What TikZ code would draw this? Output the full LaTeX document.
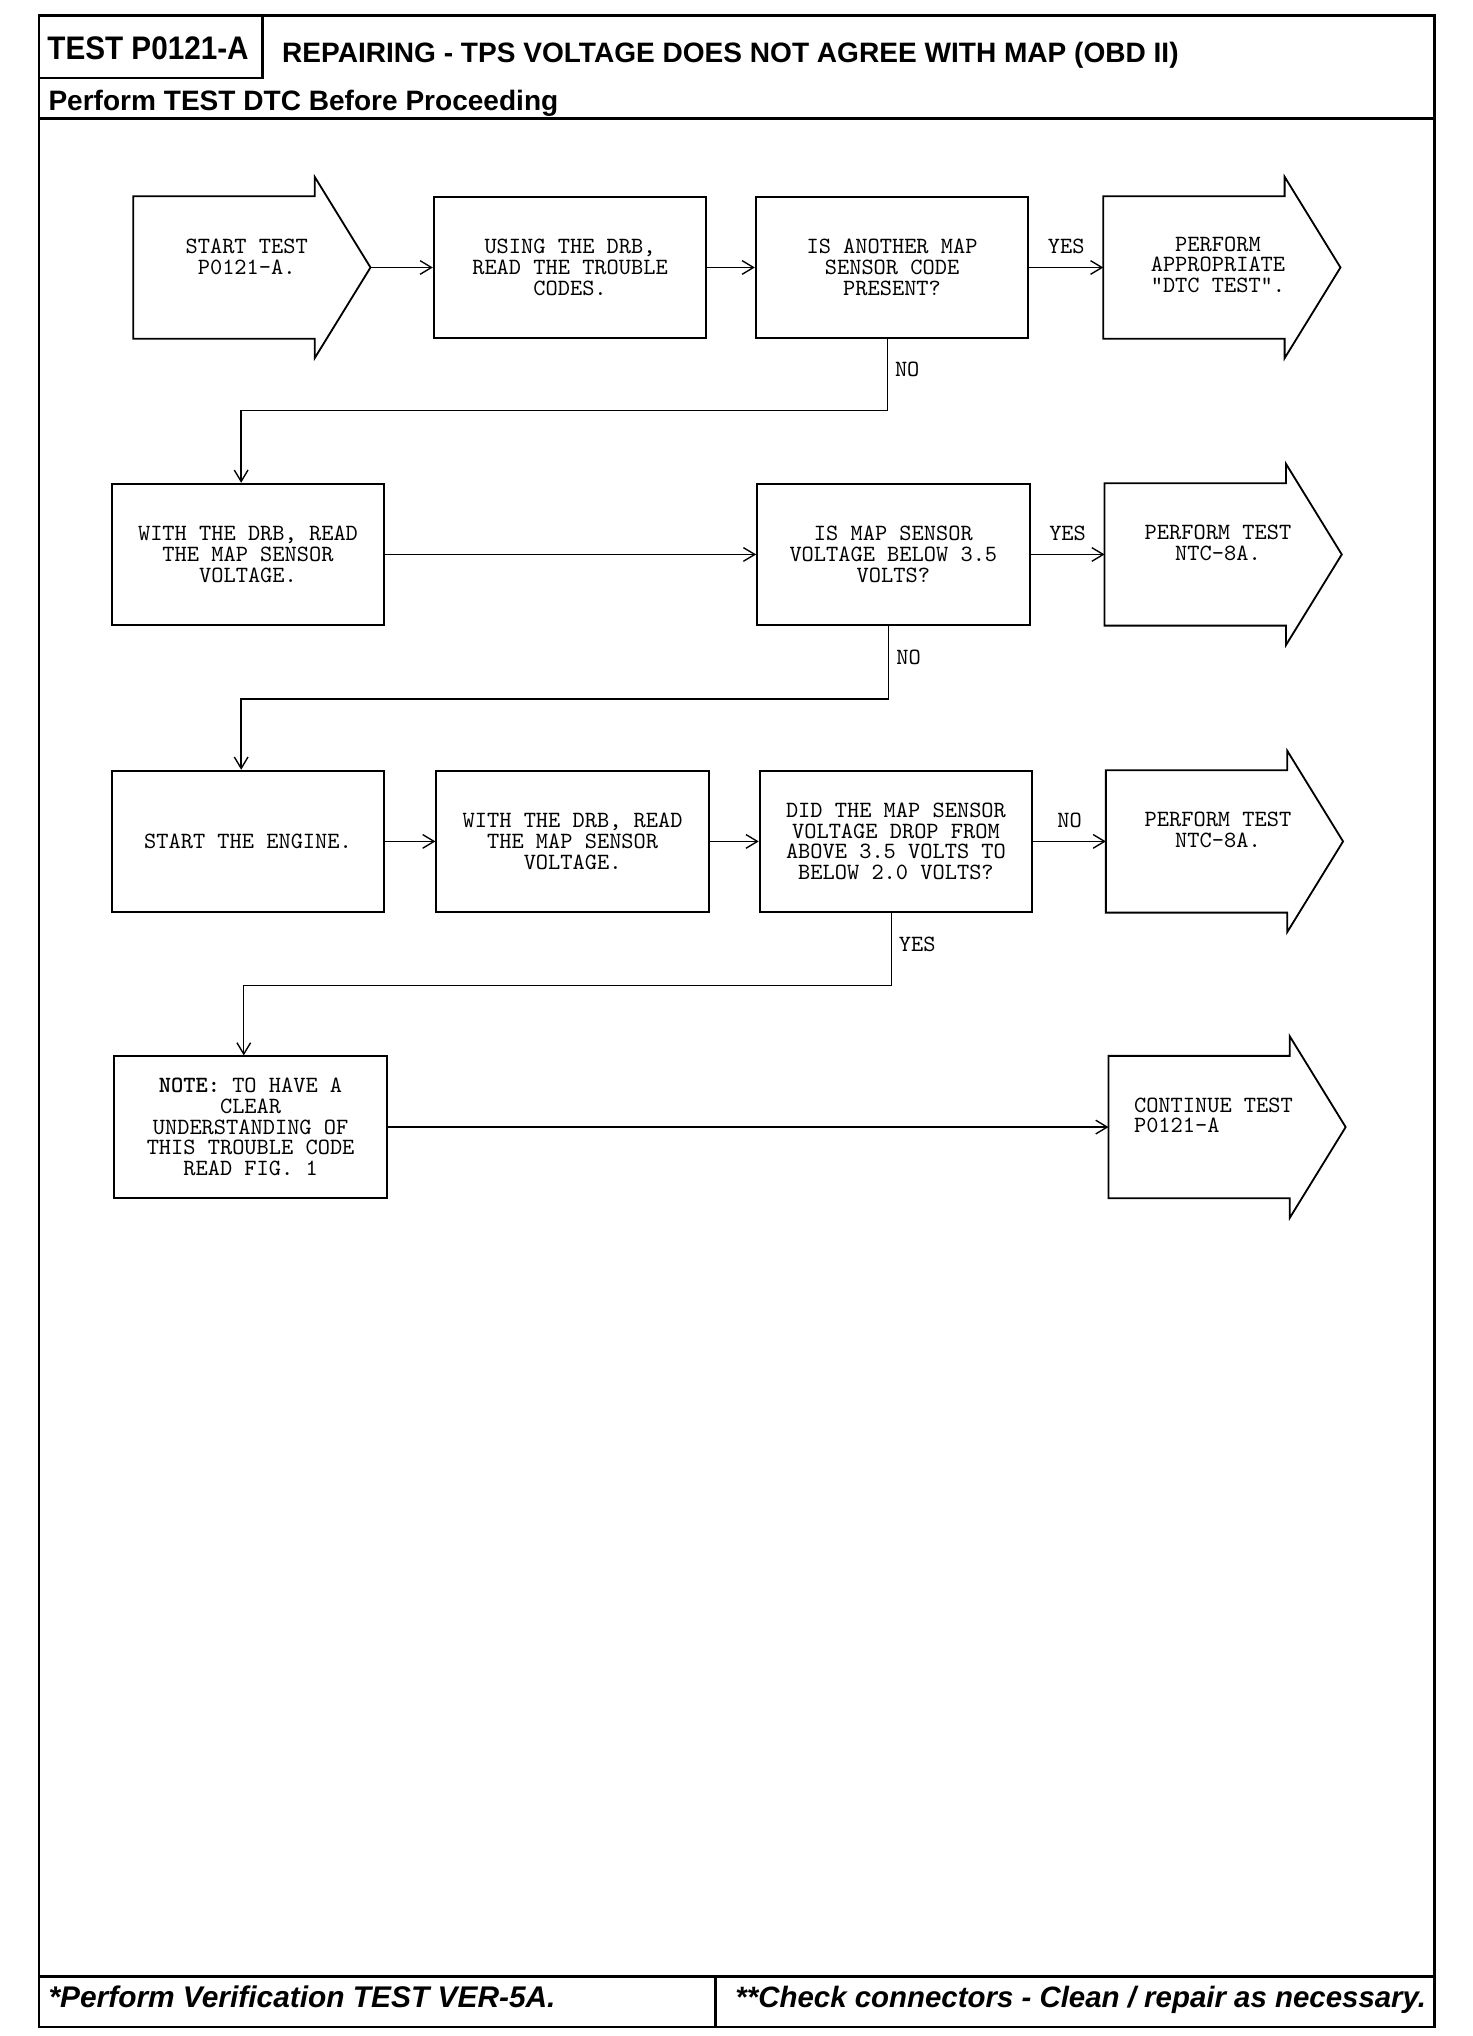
\documentclass[tikz,border=0pt]{standalone}
\usepackage{fontspec}
\newfontfamily\hsans{Liberation Sans}
\usetikzlibrary{arrows.meta,calc}
\newcommand\boxfont{\ttfamily\fontsize{10.2}{9.1}\selectfont}
\newcommand\arrowoutline[1]{%
  \draw[line width=0.8pt] (#1.south west) -- (#1.north west) -- ($(#1.north east)+(-43,0)$) -- ++(0,-15)
    -- (#1.east) -- ($(#1.south east)+(-43,15)$) -- ($(#1.south east)+(-43,0)$) -- cycle;}
\tikzset{
  box/.style={draw, line width=0.8pt, minimum width=4.2cm, minimum height=2.18cm, inner sep=0pt, align=center, font=\boxfont},
  arrbody/.style={minimum width=3.64cm, minimum height=2.18cm, inner sep=0pt},
  txt/.style={align=center, font=\boxfont, inner sep=0pt},
  conn/.style={line width=0.6pt, -{Straight Barb[length=5pt,width=6pt]}},
  lbl/.style={font=\boxfont, inner sep=1pt},
  frame/.style={line width=1.2pt},
  hdr/.style={font=\hsans\bfseries\fontsize{12.3}{14}\selectfont, inner sep=0pt},
  ftr/.style={font=\hsans\bfseries\itshape\fontsize{13.1}{14}\selectfont, inner sep=0pt},
}
\begin{document}
\begin{tikzpicture}[x=0.02cm,y=-0.02cm]
\useasboundingbox (0,0) rectangle (1134,1568);
% frame
\draw[frame] (30,12) rectangle (1105,1561);
\draw[frame] (30,60) -- (202,60) -- (202,12);
\draw[frame] (30,91) -- (1105,91);
\draw[frame] (30,1522) -- (1105,1522);
\draw[frame] (551,1522) -- (551,1561);
% header texts
\node[font=\hsans\bfseries\fontsize{14.3}{16}\selectfont, inner sep=0pt, anchor=base] (hid) at (114,46) {\scalebox{0.91}[1]{TEST P0121-A}};
\node[hdr, anchor=base west] (htitle) at (217,48.5) {REPAIRING - TPS VOLTAGE DOES NOT AGREE WITH MAP (OBD II)};
\node[hdr, anchor=base west] (hsub) at (37,85) {Perform TEST DTC Before Proceeding};
\node[ftr, anchor=base west] (f1) at (37,1546) {*Perform Verification TEST VER-5A.};
\node[ftr, font=\hsans\bfseries\itshape\fontsize{12.9}{14}\selectfont, anchor=base west] (f2) at (566,1546) {**Check connectors - Clean / repair as necessary.};
% row 1
\node[arrbody] (a1) at (194,206) {};
\arrowoutline{a1}
\node[txt] (a1t) at (190,198) {START TEST\\P0121-A.};
\node[box] (b1) at (439,206) {USING THE DRB,\\READ THE TROUBLE\\CODES.};
\node[box] (b2) at (687,206) {IS ANOTHER MAP\\SENSOR CODE\\PRESENT?};
\node[arrbody] (a2) at (941,206) {};
\arrowoutline{a2}
\node[txt] (a2t) at (938,204) {PERFORM\\APPROPRIATE\\"DTC TEST".};
% row 2
\node[box] (b3) at (191,427) {WITH THE DRB, READ\\THE MAP SENSOR\\VOLTAGE.};
\node[box] (b4) at (688,427) {IS MAP SENSOR\\VOLTAGE BELOW 3.5\\VOLTS?};
\node[arrbody] (a3) at (942,427) {};
\arrowoutline{a3}
\node[txt] (a3t) at (938,418) {PERFORM TEST\\NTC-8A.};
% row 3
\node[box] (b5) at (191,648) {START THE ENGINE.};
\node[box] (b6) at (441,648) {WITH THE DRB, READ\\THE MAP SENSOR\\VOLTAGE.};
\node[box] (b7) at (690,648) {DID THE MAP SENSOR\\VOLTAGE DROP FROM\\ABOVE 3.5 VOLTS TO\\BELOW 2.0 VOLTS?};
\node[arrbody] (a4) at (943,648) {};
\arrowoutline{a4}
\node[txt] (a4t) at (938,639) {PERFORM TEST\\NTC-8A.};
% row 4
\node[box] (b8) at (193,868) {\textbf{NOTE:} TO HAVE A\\CLEAR\\UNDERSTANDING OF\\THIS TROUBLE CODE\\READ FIG. 1};
\node[arrbody] (a5) at (945,868) {};
\arrowoutline{a5}
\node[txt, align=left, anchor=west] (a5t) at (873,859) {CONTINUE TEST\\P0121-A};
% connectors
\draw[conn] (a1.east) -- (b1.west);
\draw[conn] (b1.east) -- (b2.west);
\draw[conn] (b2.east) -- node[lbl, above=4.5pt] (l1) {YES} (a2.west);
\draw[conn] ([xshift=-2pt]b2.south) -- node[lbl, right=2pt, pos=0.43] (l2) {NO} ++(0,55) -| ([xshift=-3pt]b3.north);
\draw[conn] (b3.east) -- (b4.west);
\draw[conn] (b4.east) -- node[lbl, above=4.5pt] (l3) {YES} (a3.west);
\draw[conn] ([xshift=-2pt]b4.south) -- node[lbl, right=2pt, pos=0.43] (l4) {NO} ++(0,56) -| ([xshift=-3pt]b5.north);
\draw[conn] (b5.east) -- (b6.west);
\draw[conn] (b6.east) -- (b7.west);
\draw[conn] (b7.east) -- node[lbl, above=4.5pt] (l5) {NO} (a4.west);
\draw[conn] ([xshift=-2pt]b7.south) -- node[lbl, right=2pt, pos=0.43] (l6) {YES} ++(0,56) -| ([xshift=-3pt]b8.north);
\draw[conn] (b8.east) -- (a5.west);
\end{tikzpicture}
\end{document}
